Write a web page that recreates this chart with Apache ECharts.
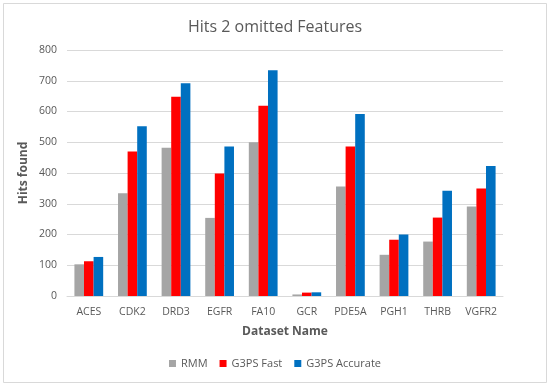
<!DOCTYPE html>
<html><head><meta charset="utf-8">
<script src="https://cdn.jsdelivr.net/npm/echarts@6/dist/echarts.min.js"></script>
<style>html,body{margin:0;padding:0;background:#fff}#c{width:550px;height:386px}</style>
</head><body><div id="c"></div>
<script>
const categories = ['ACES','CDK2','DRD3','EGFR','FA10','GCR','PDE5A','PGH1','THRB','VGFR2'];
const rmm = [103,334,482,254,500,5,356,134,177,291];
const g3psFast = [113,470,648,398,619,11,486,183,255,350];
const g3psAccurate = [127,552,692,486,734,12,592,200,342,423];
const yTicks = [0,100,200,300,400,500,600,700,800];

const font = 'Open Sans';
const chart = echarts.init(document.getElementById('c'));
chart.setOption({
  animation:false,
  backgroundColor:'#fff',
  graphic:[{type:'rect',shape:{x:3.5,y:3.5,width:543,height:379},style:{fill:'none',stroke:'#d9d9d9',lineWidth:1}}],
  title:{text:'Hits 2 omitted Features',left:'center',top:14,textStyle:{fontFamily:font,fontSize:16,fontWeight:'normal',color:'#595959'}},
  legend:{bottom:12,left:'center',itemWidth:7,itemHeight:7,itemGap:12,icon:'rect',
    textStyle:{fontFamily:font,fontSize:11,color:'#595959'},
    data:['RMM','G3PS Fast','G3PS Accurate']},
  grid:{left:67,right:47,top:50,bottom:90},
  xAxis:{type:'category',data:categories,name:'Dataset Name',nameLocation:'middle',nameGap:30,
    nameTextStyle:{fontFamily:font,fontSize:12,fontWeight:'bold',color:'#595959'},
    axisLine:{lineStyle:{color:'#d9d9d9'}},axisTick:{show:false},
    axisLabel:{fontFamily:font,fontSize:10.5,color:'#595959',margin:11,interval:0}},
  yAxis:{type:'value',min:yTicks[0],max:yTicks[yTicks.length-1],interval:100,name:'Hits found',nameLocation:'middle',nameGap:37,nameMoveOverlap:false,
    nameTextStyle:{fontFamily:font,fontSize:12,fontWeight:'bold',color:'#595959'},
    axisLine:{show:false},axisTick:{show:false},
    splitLine:{lineStyle:{color:'#d9d9d9'}},
    axisLabel:{fontFamily:font,fontSize:10.5,color:'#595959',margin:10}},
  series:[
    {name:'RMM',type:'bar',data:rmm,itemStyle:{color:'#A5A5A5'},barGap:'0%',barCategoryGap:'34%'},
    {name:'G3PS Fast',type:'bar',data:g3psFast,itemStyle:{color:'#FF0000'},barGap:'0%',barCategoryGap:'34%'},
    {name:'G3PS Accurate',type:'bar',data:g3psAccurate,itemStyle:{color:'#0070C0'},barGap:'0%',barCategoryGap:'34%'}
  ]
});
</script></body></html>
